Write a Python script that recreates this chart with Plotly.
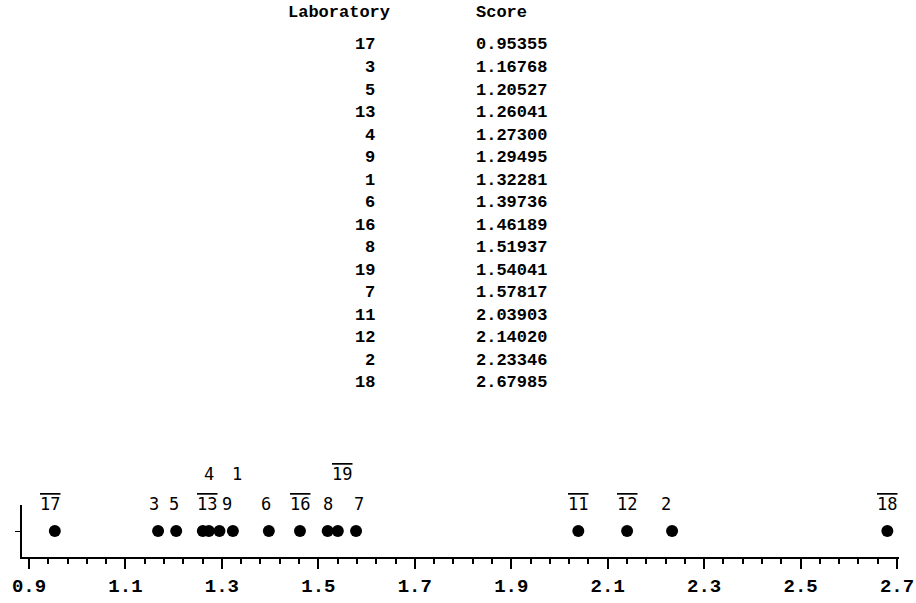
import plotly.graph_objects as go

labs = [17, 3, 5, 13, 4, 9, 1, 6, 16, 8, 19, 7, 11, 12, 2, 18]
scores = [0.95355, 1.16768, 1.20527, 1.26041, 1.27300, 1.29495, 1.32281, 1.39736,
          1.46189, 1.51937, 1.54041, 1.57817, 2.03903, 2.14020, 2.23346, 2.67985]
score_text = ["0.95355", "1.16768", "1.20527", "1.26041", "1.27300", "1.29495", "1.32281",
              "1.39736", "1.46189", "1.51937", "1.54041", "1.57817", "2.03903", "2.14020",
              "2.23346", "2.67985"]
tick_vals = [0.9, 1.1, 1.3, 1.5, 1.7, 1.9, 2.1, 2.3, 2.5, 2.7]
tick_text = ["0.9", "1.1", "1.3", "1.5", "1.7", "1.9", "2.1", "2.3", "2.5", "2.7"]
header = ["Laboratory", "Score"]

# label layout (stacking row and small pixel nudges, like the original print)
upper_row = {4, 1, 19}
nudge = {17: -5, 3: -4, 5: -2, 13: 4, 9: 8, 1: 4, 6: -3, 19: 4, 7: 3, 2: -6}

W, H = 916, 603
ML, MR, MB, MT = 22, 17, 46, 0
plot_w = W - ML - MR
plot_h = H - MB - MT

def px2paper_x(px):
    return (px - ML) / plot_w

def py2paper_y(py):
    return (H - MB - py) / plot_h

mono = "Liberation Mono, Courier New, monospace"
tfont = dict(family=mono, size=17, color="black", weight="bold")

fig = go.Figure()
fig.add_trace(go.Scatter(
    x=scores, y=[0] * len(scores), mode="markers",
    marker=dict(color="black", size=12), hoverinfo="x",
    cliponaxis=False, showlegend=False))

ann = []
for lab, s in zip(labs, scores):
    t = str(lab)
    if lab >= 10:
        t = '<span style="text-decoration:overline">' + t + '</span>'
    ann.append(dict(x=s, y=0, xref="x", yref="y", text=t, showarrow=False,
                    xshift=nudge.get(lab, 0),
                    yshift=57 if lab in upper_row else 27,
                    font=dict(family="DejaVu Sans Mono, monospace", size=17, color="black")))

# table
ann.append(dict(x=px2paper_x(339), y=py2paper_y(12), xref="paper", yref="paper",
                text=header[0], showarrow=False, xanchor="center", yanchor="middle",
                font=tfont))
ann.append(dict(x=px2paper_x(474), y=py2paper_y(12), xref="paper", yref="paper",
                text=header[1], showarrow=False, xanchor="left", yanchor="middle",
                font=tfont))
for i, (lab, st) in enumerate(zip(labs, score_text)):
    py = 45 + 22.5 * i
    ann.append(dict(x=px2paper_x(377), y=py2paper_y(py), xref="paper", yref="paper",
                    text=str(lab), showarrow=False, xanchor="right", yanchor="middle",
                    font=tfont))
    ann.append(dict(x=px2paper_x(474), y=py2paper_y(py), xref="paper", yref="paper",
                    text=st, showarrow=False, xanchor="left", yanchor="middle",
                    font=tfont))

fig.update_layout(
    width=W, height=H, margin=dict(l=ML, r=MR, t=MT, b=MB),
    plot_bgcolor="white", paper_bgcolor="white",
    annotations=ann,
    xaxis=dict(range=[0.8855, 2.704], showgrid=False, zeroline=False,
               showline=True, linecolor="black", linewidth=2,
               tickmode="array", tickvals=tick_vals, ticktext=tick_text,
               ticks="outside", ticklen=10, tickwidth=2, tickcolor="black",
               ticklabelstandoff=0,
               tickfont=dict(family=mono, size=19, color="black", weight="bold"),
               minor=dict(dtick=0.04, tick0=0.9, ticks="outside", ticklen=5,
                          tickwidth=2, tickcolor="black", showgrid=False)),
    yaxis=dict(domain=[0, 52 / plot_h], range=[-1, 1], showgrid=False, zeroline=False,
               showline=True, linecolor="black", linewidth=2,
               tickmode="array", tickvals=[0], ticks="outside", ticklen=5,
               tickwidth=1, tickcolor="black", showticklabels=False,
               fixedrange=True),
)

fig.write_html("out.html")
